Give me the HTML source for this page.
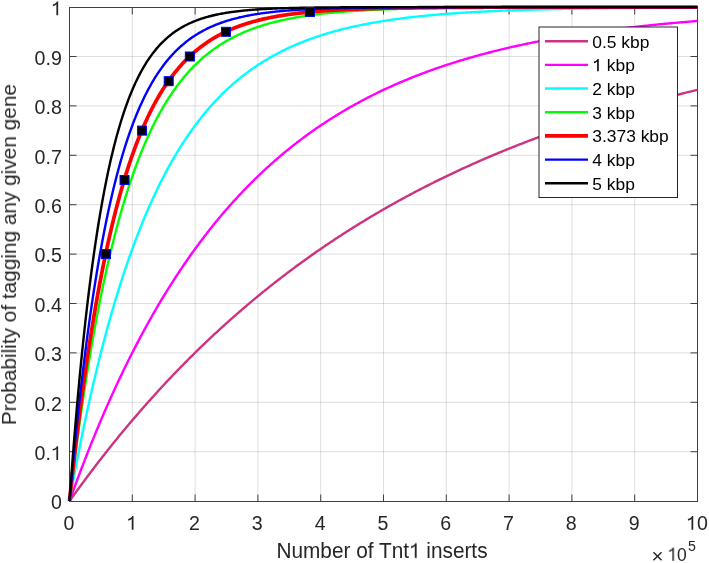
<!DOCTYPE html>
<html><head><meta charset="utf-8"><style>
html,body{margin:0;padding:0;background:#fff;overflow:hidden}
svg{display:block}
text{will-change:transform}
</style></head><body>
<svg width="709" height="563" viewBox="0 0 709 563">
<rect width="709" height="563" fill="#fff"/>
<path d="M132.30 7.5V501.5M195.10 7.5V501.5M257.90 7.5V501.5M320.70 7.5V501.5M383.50 7.5V501.5M446.30 7.5V501.5M509.10 7.5V501.5M571.90 7.5V501.5M634.70 7.5V501.5" stroke="#262626" stroke-opacity="0.15" stroke-width="1" fill="none"/>
<path d="M69.5 451.70H697.5M69.5 402.30H697.5M69.5 352.90H697.5M69.5 303.50H697.5M69.5 254.10H697.5M69.5 204.70H697.5M69.5 155.30H697.5M69.5 105.90H697.5M69.5 56.50H697.5" stroke="#262626" stroke-opacity="0.15" stroke-width="1" fill="none"/>
<path d="M69.50 501.5v-7.0M69.50 7.5v7.0M69.5 501.50h7.0M697.5 501.50h-7.0M132.30 501.5v-7.0M132.30 7.5v7.0M69.5 451.70h7.0M697.5 451.70h-7.0M195.10 501.5v-7.0M195.10 7.5v7.0M69.5 402.30h7.0M697.5 402.30h-7.0M257.90 501.5v-7.0M257.90 7.5v7.0M69.5 352.90h7.0M697.5 352.90h-7.0M320.70 501.5v-7.0M320.70 7.5v7.0M69.5 303.50h7.0M697.5 303.50h-7.0M383.50 501.5v-7.0M383.50 7.5v7.0M69.5 254.10h7.0M697.5 254.10h-7.0M446.30 501.5v-7.0M446.30 7.5v7.0M69.5 204.70h7.0M697.5 204.70h-7.0M509.10 501.5v-7.0M509.10 7.5v7.0M69.5 155.30h7.0M697.5 155.30h-7.0M571.90 501.5v-7.0M571.90 7.5v7.0M69.5 105.90h7.0M697.5 105.90h-7.0M634.70 501.5v-7.0M634.70 7.5v7.0M69.5 56.50h7.0M697.5 56.50h-7.0M697.50 501.5v-7.0M697.50 7.5v7.0M69.5 7.50h7.0M697.5 7.50h-7.0" stroke="#404040" stroke-width="1" fill="none"/>
<rect x="69.5" y="7.5" width="628.0" height="494.0" stroke="#404040" stroke-width="1" fill="none"/>
<polyline points="69.50,501.10 70.55,499.63 71.59,498.17 72.64,496.71 73.69,495.25 74.73,493.80 75.78,492.36 76.83,490.91 77.87,489.48 78.92,488.04 79.97,486.61 81.01,485.19 82.06,483.77 83.11,482.35 84.15,480.94 85.20,479.53 86.25,478.13 87.29,476.73 88.34,475.33 89.39,473.94 90.43,472.55 91.48,471.17 92.53,469.79 93.57,468.42 94.62,467.05 95.67,465.68 96.71,464.32 97.76,462.96 98.81,461.60 99.85,460.25 100.90,458.90 101.95,457.56 102.99,456.22 104.04,454.89 105.09,453.56 106.13,452.23 107.18,450.91 108.23,449.59 109.27,448.27 110.32,446.96 111.37,445.66 112.41,444.35 113.46,443.05 114.51,441.76 115.55,440.47 116.60,439.18 117.65,437.89 118.69,436.61 119.74,435.34 120.79,434.07 121.83,432.80 122.88,431.53 123.93,430.27 124.97,429.01 126.02,427.76 127.07,426.51 128.11,425.26 129.16,424.02 130.21,422.78 131.25,421.55 132.30,420.31 133.35,419.09 134.39,417.86 135.44,416.64 136.49,415.42 137.53,414.21 138.58,413.00 139.63,411.79 140.67,410.59 141.72,409.39 142.77,408.20 143.81,407.00 144.86,405.82 145.91,404.63 146.95,403.45 148.00,402.27 149.05,401.10 150.09,399.93 151.14,398.76 152.19,397.60 153.23,396.44 154.28,395.28 155.33,394.12 156.37,392.97 157.42,391.83 158.47,390.68 159.51,389.54 160.56,388.41 161.61,387.27 162.65,386.14 163.70,385.02 164.75,383.90 165.79,382.78 166.84,381.66 167.89,380.55 168.93,379.44 169.98,378.33 171.03,377.23 172.07,376.13 173.12,375.03 174.17,373.94 175.21,372.85 176.26,371.76 177.31,370.68 178.35,369.60 179.40,368.52 180.45,367.44 181.49,366.37 182.54,365.31 183.59,364.24 184.63,363.18 185.68,362.12 186.73,361.07 187.77,360.01 188.82,358.97 189.87,357.92 190.91,356.88 191.96,355.84 193.01,354.80 194.05,353.77 195.10,352.74 196.15,351.71 197.19,350.69 198.24,349.67 199.29,348.65 200.33,347.63 201.38,346.62 202.43,345.61 203.47,344.61 204.52,343.60 205.57,342.60 206.61,341.61 207.66,340.61 208.71,339.62 209.75,338.63 210.80,337.65 211.85,336.67 212.89,335.69 213.94,334.71 214.99,333.74 216.03,332.76 217.08,331.80 218.13,330.83 219.17,329.87 220.22,328.91 221.27,327.95 222.31,327.00 223.36,326.05 224.41,325.10 225.45,324.16 226.50,323.22 227.55,322.28 228.59,321.34 229.64,320.41 230.69,319.47 231.73,318.55 232.78,317.62 233.83,316.70 234.87,315.78 235.92,314.86 236.97,313.95 238.01,313.03 239.06,312.12 240.11,311.22 241.15,310.31 242.20,309.41 243.25,308.51 244.29,307.62 245.34,306.73 246.39,305.84 247.43,304.95 248.48,304.06 249.53,303.18 250.57,302.30 251.62,301.42 252.67,300.55 253.71,299.68 254.76,298.81 255.81,297.94 256.85,297.08 257.90,296.21 258.95,295.35 259.99,294.50 261.04,293.64 262.09,292.79 263.13,291.94 264.18,291.10 265.23,290.25 266.27,289.41 267.32,288.57 268.37,287.74 269.41,286.90 270.46,286.07 271.51,285.24 272.55,284.42 273.60,283.59 274.65,282.77 275.69,281.95 276.74,281.13 277.79,280.32 278.83,279.51 279.88,278.70 280.93,277.89 281.97,277.09 283.02,276.28 284.07,275.48 285.11,274.69 286.16,273.89 287.21,273.10 288.25,272.31 289.30,271.52 290.35,270.73 291.39,269.95 292.44,269.17 293.49,268.39 294.53,267.61 295.58,266.84 296.63,266.07 297.67,265.30 298.72,264.53 299.77,263.77 300.81,263.00 301.86,262.24 302.91,261.48 303.95,260.73 305.00,259.97 306.05,259.22 307.09,258.47 308.14,257.73 309.19,256.98 310.23,256.24 311.28,255.50 312.33,254.76 313.37,254.02 314.42,253.29 315.47,252.56 316.51,251.83 317.56,251.10 318.61,250.38 319.65,249.65 320.70,248.93 321.75,248.21 322.79,247.50 323.84,246.78 324.89,246.07 325.93,245.36 326.98,244.65 328.03,243.95 329.07,243.24 330.12,242.54 331.17,241.84 332.21,241.14 333.26,240.45 334.31,239.76 335.35,239.06 336.40,238.37 337.45,237.69 338.49,237.00 339.54,236.32 340.59,235.64 341.63,234.96 342.68,234.28 343.73,233.61 344.77,232.93 345.82,232.26 346.87,231.59 347.91,230.93 348.96,230.26 350.01,229.60 351.05,228.94 352.10,228.28 353.15,227.62 354.19,226.96 355.24,226.31 356.29,225.66 357.33,225.01 358.38,224.36 359.43,223.72 360.47,223.07 361.52,222.43 362.57,221.79 363.61,221.15 364.66,220.52 365.71,219.88 366.75,219.25 367.80,218.62 368.85,217.99 369.89,217.37 370.94,216.74 371.99,216.12 373.03,215.50 374.08,214.88 375.13,214.26 376.17,213.64 377.22,213.03 378.27,212.42 379.31,211.81 380.36,211.20 381.41,210.59 382.45,209.99 383.50,209.39 384.55,208.78 385.59,208.18 386.64,207.59 387.69,206.99 388.73,206.40 389.78,205.80 390.83,205.21 391.87,204.63 392.92,204.04 393.97,203.45 395.01,202.87 396.06,202.29 397.11,201.71 398.15,201.13 399.20,200.55 400.25,199.98 401.29,199.41 402.34,198.83 403.39,198.26 404.43,197.70 405.48,197.13 406.53,196.56 407.57,196.00 408.62,195.44 409.67,194.88 410.71,194.32 411.76,193.77 412.81,193.21 413.85,192.66 414.90,192.11 415.95,191.56 416.99,191.01 418.04,190.46 419.09,189.92 420.13,189.37 421.18,188.83 422.23,188.29 423.27,187.75 424.32,187.22 425.37,186.68 426.41,186.15 427.46,185.62 428.51,185.09 429.55,184.56 430.60,184.03 431.65,183.50 432.69,182.98 433.74,182.46 434.79,181.94 435.83,181.42 436.88,180.90 437.93,180.38 438.97,179.87 440.02,179.35 441.07,178.84 442.11,178.33 443.16,177.82 444.21,177.31 445.25,176.81 446.30,176.30 447.35,175.80 448.39,175.30 449.44,174.80 450.49,174.30 451.53,173.81 452.58,173.31 453.63,172.82 454.67,172.32 455.72,171.83 456.77,171.34 457.81,170.85 458.86,170.37 459.91,169.88 460.95,169.40 462.00,168.92 463.05,168.44 464.09,167.96 465.14,167.48 466.19,167.00 467.23,166.53 468.28,166.05 469.33,165.58 470.37,165.11 471.42,164.64 472.47,164.17 473.51,163.70 474.56,163.24 475.61,162.78 476.65,162.31 477.70,161.85 478.75,161.39 479.79,160.93 480.84,160.48 481.89,160.02 482.93,159.57 483.98,159.11 485.03,158.66 486.07,158.21 487.12,157.76 488.17,157.31 489.21,156.87 490.26,156.42 491.31,155.98 492.35,155.54 493.40,155.09 494.45,154.66 495.49,154.22 496.54,153.78 497.59,153.34 498.63,152.91 499.68,152.48 500.73,152.04 501.77,151.61 502.82,151.18 503.87,150.76 504.91,150.33 505.96,149.90 507.01,149.48 508.05,149.06 509.10,148.63 510.15,148.21 511.19,147.79 512.24,147.38 513.29,146.96 514.33,146.54 515.38,146.13 516.43,145.72 517.47,145.30 518.52,144.89 519.57,144.48 520.61,144.07 521.66,143.67 522.71,143.26 523.75,142.86 524.80,142.45 525.85,142.05 526.89,141.65 527.94,141.25 528.99,140.85 530.03,140.45 531.08,140.06 532.13,139.66 533.17,139.27 534.22,138.88 535.27,138.48 536.31,138.09 537.36,137.71 538.41,137.32 539.45,136.93 540.50,136.54 541.55,136.16 542.59,135.78 543.64,135.39 544.69,135.01 545.73,134.63 546.78,134.25 547.83,133.88 548.87,133.50 549.92,133.12 550.97,132.75 552.01,132.38 553.06,132.00 554.11,131.63 555.15,131.26 556.20,130.89 557.25,130.52 558.29,130.16 559.34,129.79 560.39,129.43 561.43,129.06 562.48,128.70 563.53,128.34 564.57,127.98 565.62,127.62 566.67,127.26 567.71,126.91 568.76,126.55 569.81,126.19 570.85,125.84 571.90,125.49 572.95,125.14 573.99,124.79 575.04,124.44 576.09,124.09 577.13,123.74 578.18,123.39 579.23,123.05 580.27,122.70 581.32,122.36 582.37,122.02 583.41,121.67 584.46,121.33 585.51,120.99 586.55,120.66 587.60,120.32 588.65,119.98 589.69,119.65 590.74,119.31 591.79,118.98 592.83,118.65 593.88,118.31 594.93,117.98 595.97,117.65 597.02,117.33 598.07,117.00 599.11,116.67 600.16,116.35 601.21,116.02 602.25,115.70 603.30,115.38 604.35,115.05 605.39,114.73 606.44,114.41 607.49,114.09 608.53,113.78 609.58,113.46 610.63,113.14 611.67,112.83 612.72,112.51 613.77,112.20 614.81,111.89 615.86,111.58 616.91,111.27 617.95,110.96 619.00,110.65 620.05,110.34 621.09,110.03 622.14,109.73 623.19,109.42 624.23,109.12 625.28,108.82 626.33,108.51 627.37,108.21 628.42,107.91 629.47,107.61 630.51,107.31 631.56,107.02 632.61,106.72 633.65,106.42 634.70,106.13 635.75,105.83 636.79,105.54 637.84,105.25 638.89,104.96 639.93,104.66 640.98,104.37 642.03,104.09 643.07,103.80 644.12,103.51 645.17,103.22 646.21,102.94 647.26,102.65 648.31,102.37 649.35,102.09 650.40,101.80 651.45,101.52 652.49,101.24 653.54,100.96 654.59,100.68 655.63,100.40 656.68,100.13 657.73,99.85 658.77,99.58 659.82,99.30 660.87,99.03 661.91,98.75 662.96,98.48 664.01,98.21 665.05,97.94 666.10,97.67 667.15,97.40 668.19,97.13 669.24,96.86 670.29,96.60 671.33,96.33 672.38,96.07 673.43,95.80 674.47,95.54 675.52,95.27 676.57,95.01 677.61,94.75 678.66,94.49 679.71,94.23 680.75,93.97 681.80,93.71 682.85,93.46 683.89,93.20 684.94,92.94 685.99,92.69 687.03,92.43 688.08,92.18 689.13,91.93 690.17,91.68 691.22,91.42 692.27,91.17 693.31,90.92 694.36,90.68 695.41,90.43 696.45,90.18 697.50,89.93" stroke="#cc3380" stroke-width="2.4" fill="none" stroke-linejoin="round"/>
<polyline points="69.50,501.10 70.55,498.17 71.59,495.25 72.64,492.36 73.69,489.48 74.73,486.61 75.78,483.77 76.83,480.94 77.87,478.13 78.92,475.33 79.97,472.55 81.01,469.79 82.06,467.05 83.11,464.32 84.15,461.60 85.20,458.90 86.25,456.22 87.29,453.56 88.34,450.91 89.39,448.27 90.43,445.66 91.48,443.05 92.53,440.47 93.57,437.89 94.62,435.34 95.67,432.80 96.71,430.27 97.76,427.76 98.81,425.26 99.85,422.78 100.90,420.31 101.95,417.86 102.99,415.42 104.04,413.00 105.09,410.59 106.13,408.20 107.18,405.82 108.23,403.45 109.27,401.10 110.32,398.76 111.37,396.44 112.41,394.12 113.46,391.83 114.51,389.54 115.55,387.27 116.60,385.02 117.65,382.78 118.69,380.55 119.74,378.33 120.79,376.13 121.83,373.94 122.88,371.76 123.93,369.60 124.97,367.44 126.02,365.31 127.07,363.18 128.11,361.07 129.16,358.97 130.21,356.88 131.25,354.80 132.30,352.74 133.35,350.69 134.39,348.65 135.44,346.62 136.49,344.61 137.53,342.60 138.58,340.61 139.63,338.63 140.67,336.67 141.72,334.71 142.77,332.76 143.81,330.83 144.86,328.91 145.91,327.00 146.95,325.10 148.00,323.22 149.05,321.34 150.09,319.47 151.14,317.62 152.19,315.78 153.23,313.95 154.28,312.12 155.33,310.31 156.37,308.51 157.42,306.73 158.47,304.95 159.51,303.18 160.56,301.42 161.61,299.68 162.65,297.94 163.70,296.21 164.75,294.50 165.79,292.79 166.84,291.10 167.89,289.41 168.93,287.74 169.98,286.07 171.03,284.42 172.07,282.77 173.12,281.13 174.17,279.51 175.21,277.89 176.26,276.28 177.31,274.69 178.35,273.10 179.40,271.52 180.45,269.95 181.49,268.39 182.54,266.84 183.59,265.30 184.63,263.77 185.68,262.24 186.73,260.73 187.77,259.22 188.82,257.73 189.87,256.24 190.91,254.76 191.96,253.29 193.01,251.83 194.05,250.38 195.10,248.93 196.15,247.50 197.19,246.07 198.24,244.65 199.29,243.24 200.33,241.84 201.38,240.45 202.43,239.06 203.47,237.69 204.52,236.32 205.57,234.96 206.61,233.61 207.66,232.26 208.71,230.93 209.75,229.60 210.80,228.28 211.85,226.96 212.89,225.66 213.94,224.36 214.99,223.07 216.03,221.79 217.08,220.52 218.13,219.25 219.17,217.99 220.22,216.74 221.27,215.50 222.31,214.26 223.36,213.03 224.41,211.81 225.45,210.59 226.50,209.39 227.55,208.18 228.59,206.99 229.64,205.80 230.69,204.63 231.73,203.45 232.78,202.29 233.83,201.13 234.87,199.98 235.92,198.83 236.97,197.70 238.01,196.56 239.06,195.44 240.11,194.32 241.15,193.21 242.20,192.11 243.25,191.01 244.29,189.92 245.34,188.83 246.39,187.75 247.43,186.68 248.48,185.62 249.53,184.56 250.57,183.50 251.62,182.46 252.67,181.42 253.71,180.38 254.76,179.35 255.81,178.33 256.85,177.31 257.90,176.30 258.95,175.30 259.99,174.30 261.04,173.31 262.09,172.32 263.13,171.34 264.18,170.37 265.23,169.40 266.27,168.44 267.32,167.48 268.37,166.53 269.41,165.58 270.46,164.64 271.51,163.70 272.55,162.78 273.60,161.85 274.65,160.93 275.69,160.02 276.74,159.11 277.79,158.21 278.83,157.31 279.88,156.42 280.93,155.54 281.97,154.66 283.02,153.78 284.07,152.91 285.11,152.04 286.16,151.18 287.21,150.33 288.25,149.48 289.30,148.63 290.35,147.79 291.39,146.96 292.44,146.13 293.49,145.30 294.53,144.48 295.58,143.67 296.63,142.86 297.67,142.05 298.72,141.25 299.77,140.45 300.81,139.66 301.86,138.88 302.91,138.09 303.95,137.32 305.00,136.54 306.05,135.78 307.09,135.01 308.14,134.25 309.19,133.50 310.23,132.75 311.28,132.00 312.33,131.26 313.37,130.52 314.42,129.79 315.47,129.06 316.51,128.34 317.56,127.62 318.61,126.91 319.65,126.19 320.70,125.49 321.75,124.79 322.79,124.09 323.84,123.39 324.89,122.70 325.93,122.02 326.98,121.33 328.03,120.66 329.07,119.98 330.12,119.31 331.17,118.65 332.21,117.98 333.26,117.33 334.31,116.67 335.35,116.02 336.40,115.38 337.45,114.73 338.49,114.09 339.54,113.46 340.59,112.83 341.63,112.20 342.68,111.58 343.73,110.96 344.77,110.34 345.82,109.73 346.87,109.12 347.91,108.51 348.96,107.91 350.01,107.31 351.05,106.72 352.10,106.13 353.15,105.54 354.19,104.96 355.24,104.37 356.29,103.80 357.33,103.22 358.38,102.65 359.43,102.09 360.47,101.52 361.52,100.96 362.57,100.40 363.61,99.85 364.66,99.30 365.71,98.75 366.75,98.21 367.80,97.67 368.85,97.13 369.89,96.60 370.94,96.07 371.99,95.54 373.03,95.01 374.08,94.49 375.13,93.97 376.17,93.46 377.22,92.94 378.27,92.43 379.31,91.93 380.36,91.42 381.41,90.92 382.45,90.43 383.50,89.93 384.55,89.44 385.59,88.95 386.64,88.47 387.69,87.98 388.73,87.50 389.78,87.03 390.83,86.55 391.87,86.08 392.92,85.61 393.97,85.15 395.01,84.68 396.06,84.22 397.11,83.76 398.15,83.31 399.20,82.86 400.25,82.41 401.29,81.96 402.34,81.52 403.39,81.07 404.43,80.64 405.48,80.20 406.53,79.77 407.57,79.33 408.62,78.91 409.67,78.48 410.71,78.06 411.76,77.63 412.81,77.22 413.85,76.80 414.90,76.39 415.95,75.98 416.99,75.57 418.04,75.16 419.09,74.76 420.13,74.35 421.18,73.96 422.23,73.56 423.27,73.16 424.32,72.77 425.37,72.38 426.41,72.00 427.46,71.61 428.51,71.23 429.55,70.85 430.60,70.47 431.65,70.09 432.69,69.72 433.74,69.35 434.79,68.98 435.83,68.61 436.88,68.25 437.93,67.88 438.97,67.52 440.02,67.16 441.07,66.81 442.11,66.45 443.16,66.10 444.21,65.75 445.25,65.40 446.30,65.06 447.35,64.71 448.39,64.37 449.44,64.03 450.49,63.69 451.53,63.36 452.58,63.02 453.63,62.69 454.67,62.36 455.72,62.03 456.77,61.71 457.81,61.38 458.86,61.06 459.91,60.74 460.95,60.42 462.00,60.11 463.05,59.79 464.09,59.48 465.14,59.17 466.19,58.86 467.23,58.55 468.28,58.25 469.33,57.94 470.37,57.64 471.42,57.34 472.47,57.04 473.51,56.75 474.56,56.45 475.61,56.16 476.65,55.87 477.70,55.58 478.75,55.29 479.79,55.00 480.84,54.72 481.89,54.44 482.93,54.16 483.98,53.88 485.03,53.60 486.07,53.32 487.12,53.05 488.17,52.78 489.21,52.51 490.26,52.24 491.31,51.97 492.35,51.70 493.40,51.44 494.45,51.17 495.49,50.91 496.54,50.65 497.59,50.39 498.63,50.14 499.68,49.88 500.73,49.63 501.77,49.38 502.82,49.12 503.87,48.87 504.91,48.63 505.96,48.38 507.01,48.14 508.05,47.89 509.10,47.65 510.15,47.41 511.19,47.17 512.24,46.93 513.29,46.70 514.33,46.46 515.38,46.23 516.43,46.00 517.47,45.76 518.52,45.53 519.57,45.31 520.61,45.08 521.66,44.85 522.71,44.63 523.75,44.41 524.80,44.19 525.85,43.97 526.89,43.75 527.94,43.53 528.99,43.31 530.03,43.10 531.08,42.89 532.13,42.67 533.17,42.46 534.22,42.25 535.27,42.04 536.31,41.84 537.36,41.63 538.41,41.42 539.45,41.22 540.50,41.02 541.55,40.82 542.59,40.62 543.64,40.42 544.69,40.22 545.73,40.02 546.78,39.83 547.83,39.63 548.87,39.44 549.92,39.25 550.97,39.06 552.01,38.87 553.06,38.68 554.11,38.49 555.15,38.31 556.20,38.12 557.25,37.94 558.29,37.75 559.34,37.57 560.39,37.39 561.43,37.21 562.48,37.03 563.53,36.86 564.57,36.68 565.62,36.50 566.67,36.33 567.71,36.16 568.76,35.98 569.81,35.81 570.85,35.64 571.90,35.47 572.95,35.30 573.99,35.14 575.04,34.97 576.09,34.80 577.13,34.64 578.18,34.48 579.23,34.31 580.27,34.15 581.32,33.99 582.37,33.83 583.41,33.67 584.46,33.52 585.51,33.36 586.55,33.20 587.60,33.05 588.65,32.89 589.69,32.74 590.74,32.59 591.79,32.44 592.83,32.29 593.88,32.14 594.93,31.99 595.97,31.84 597.02,31.69 598.07,31.55 599.11,31.40 600.16,31.26 601.21,31.12 602.25,30.97 603.30,30.83 604.35,30.69 605.39,30.55 606.44,30.41 607.49,30.27 608.53,30.14 609.58,30.00 610.63,29.86 611.67,29.73 612.72,29.59 613.77,29.46 614.81,29.33 615.86,29.20 616.91,29.06 617.95,28.93 619.00,28.80 620.05,28.68 621.09,28.55 622.14,28.42 623.19,28.29 624.23,28.17 625.28,28.04 626.33,27.92 627.37,27.80 628.42,27.67 629.47,27.55 630.51,27.43 631.56,27.31 632.61,27.19 633.65,27.07 634.70,26.95 635.75,26.83 636.79,26.72 637.84,26.60 638.89,26.48 639.93,26.37 640.98,26.25 642.03,26.14 643.07,26.03 644.12,25.92 645.17,25.80 646.21,25.69 647.26,25.58 648.31,25.47 649.35,25.36 650.40,25.26 651.45,25.15 652.49,25.04 653.54,24.93 654.59,24.83 655.63,24.72 656.68,24.62 657.73,24.51 658.77,24.41 659.82,24.31 660.87,24.21 661.91,24.10 662.96,24.00 664.01,23.90 665.05,23.80 666.10,23.70 667.15,23.61 668.19,23.51 669.24,23.41 670.29,23.31 671.33,23.22 672.38,23.12 673.43,23.03 674.47,22.93 675.52,22.84 676.57,22.75 677.61,22.65 678.66,22.56 679.71,22.47 680.75,22.38 681.80,22.29 682.85,22.20 683.89,22.11 684.94,22.02 685.99,21.93 687.03,21.84 688.08,21.75 689.13,21.67 690.17,21.58 691.22,21.49 692.27,21.41 693.31,21.32 694.36,21.24 695.41,21.16 696.45,21.07 697.50,20.99" stroke="#ff00ff" stroke-width="2.4" fill="none" stroke-linejoin="round"/>
<polyline points="69.50,501.10 70.55,495.25 71.59,489.48 72.64,483.77 73.69,478.13 74.73,472.55 75.78,467.05 76.83,461.60 77.87,456.22 78.92,450.91 79.97,445.66 81.01,440.47 82.06,435.34 83.11,430.27 84.15,425.26 85.20,420.31 86.25,415.42 87.29,410.59 88.34,405.82 89.39,401.10 90.43,396.44 91.48,391.83 92.53,387.27 93.57,382.78 94.62,378.33 95.67,373.94 96.71,369.60 97.76,365.31 98.81,361.07 99.85,356.88 100.90,352.74 101.95,348.65 102.99,344.61 104.04,340.61 105.09,336.67 106.13,332.76 107.18,328.91 108.23,325.10 109.27,321.34 110.32,317.62 111.37,313.95 112.41,310.31 113.46,306.73 114.51,303.18 115.55,299.68 116.60,296.21 117.65,292.79 118.69,289.41 119.74,286.07 120.79,282.77 121.83,279.51 122.88,276.28 123.93,273.10 124.97,269.95 126.02,266.84 127.07,263.77 128.11,260.73 129.16,257.73 130.21,254.76 131.25,251.83 132.30,248.93 133.35,246.07 134.39,243.24 135.44,240.45 136.49,237.69 137.53,234.96 138.58,232.26 139.63,229.60 140.67,226.96 141.72,224.36 142.77,221.79 143.81,219.25 144.86,216.74 145.91,214.26 146.95,211.81 148.00,209.39 149.05,206.99 150.09,204.63 151.14,202.29 152.19,199.98 153.23,197.70 154.28,195.44 155.33,193.21 156.37,191.01 157.42,188.83 158.47,186.68 159.51,184.56 160.56,182.46 161.61,180.38 162.65,178.33 163.70,176.30 164.75,174.30 165.79,172.32 166.84,170.37 167.89,168.44 168.93,166.53 169.98,164.64 171.03,162.78 172.07,160.93 173.12,159.11 174.17,157.31 175.21,155.54 176.26,153.78 177.31,152.04 178.35,150.33 179.40,148.63 180.45,146.96 181.49,145.30 182.54,143.67 183.59,142.05 184.63,140.45 185.68,138.88 186.73,137.32 187.77,135.78 188.82,134.25 189.87,132.75 190.91,131.26 191.96,129.79 193.01,128.34 194.05,126.91 195.10,125.49 196.15,124.09 197.19,122.70 198.24,121.33 199.29,119.98 200.33,118.65 201.38,117.33 202.43,116.02 203.47,114.73 204.52,113.46 205.57,112.20 206.61,110.96 207.66,109.73 208.71,108.51 209.75,107.31 210.80,106.13 211.85,104.96 212.89,103.80 213.94,102.65 214.99,101.52 216.03,100.40 217.08,99.30 218.13,98.21 219.17,97.13 220.22,96.07 221.27,95.01 222.31,93.97 223.36,92.94 224.41,91.93 225.45,90.92 226.50,89.93 227.55,88.95 228.59,87.98 229.64,87.03 230.69,86.08 231.73,85.15 232.78,84.22 233.83,83.31 234.87,82.41 235.92,81.52 236.97,80.64 238.01,79.77 239.06,78.91 240.11,78.06 241.15,77.22 242.20,76.39 243.25,75.57 244.29,74.76 245.34,73.96 246.39,73.16 247.43,72.38 248.48,71.61 249.53,70.85 250.57,70.09 251.62,69.35 252.67,68.61 253.71,67.88 254.76,67.16 255.81,66.45 256.85,65.75 257.90,65.06 258.95,64.37 259.99,63.69 261.04,63.02 262.09,62.36 263.13,61.71 264.18,61.06 265.23,60.42 266.27,59.79 267.32,59.17 268.37,58.55 269.41,57.94 270.46,57.34 271.51,56.75 272.55,56.16 273.60,55.58 274.65,55.00 275.69,54.44 276.74,53.88 277.79,53.32 278.83,52.78 279.88,52.24 280.93,51.70 281.97,51.17 283.02,50.65 284.07,50.14 285.11,49.63 286.16,49.12 287.21,48.63 288.25,48.14 289.30,47.65 290.35,47.17 291.39,46.70 292.44,46.23 293.49,45.76 294.53,45.31 295.58,44.85 296.63,44.41 297.67,43.97 298.72,43.53 299.77,43.10 300.81,42.67 301.86,42.25 302.91,41.84 303.95,41.42 305.00,41.02 306.05,40.62 307.09,40.22 308.14,39.83 309.19,39.44 310.23,39.06 311.28,38.68 312.33,38.31 313.37,37.94 314.42,37.57 315.47,37.21 316.51,36.86 317.56,36.50 318.61,36.16 319.65,35.81 320.70,35.47 321.75,35.14 322.79,34.80 323.84,34.48 324.89,34.15 325.93,33.83 326.98,33.52 328.03,33.20 329.07,32.89 330.12,32.59 331.17,32.29 332.21,31.99 333.26,31.69 334.31,31.40 335.35,31.12 336.40,30.83 337.45,30.55 338.49,30.27 339.54,30.00 340.59,29.73 341.63,29.46 342.68,29.20 343.73,28.93 344.77,28.68 345.82,28.42 346.87,28.17 347.91,27.92 348.96,27.67 350.01,27.43 351.05,27.19 352.10,26.95 353.15,26.72 354.19,26.48 355.24,26.25 356.29,26.03 357.33,25.80 358.38,25.58 359.43,25.36 360.47,25.15 361.52,24.93 362.57,24.72 363.61,24.51 364.66,24.31 365.71,24.10 366.75,23.90 367.80,23.70 368.85,23.51 369.89,23.31 370.94,23.12 371.99,22.93 373.03,22.75 374.08,22.56 375.13,22.38 376.17,22.20 377.22,22.02 378.27,21.84 379.31,21.67 380.36,21.49 381.41,21.32 382.45,21.16 383.50,20.99 384.55,20.82 385.59,20.66 386.64,20.50 387.69,20.34 388.73,20.19 389.78,20.03 390.83,19.88 391.87,19.73 392.92,19.58 393.97,19.43 395.01,19.28 396.06,19.14 397.11,19.00 398.15,18.86 399.20,18.72 400.25,18.58 401.29,18.44 402.34,18.31 403.39,18.18 404.43,18.05 405.48,17.92 406.53,17.79 407.57,17.66 408.62,17.54 409.67,17.41 410.71,17.29 411.76,17.17 412.81,17.05 413.85,16.93 414.90,16.82 415.95,16.70 416.99,16.59 418.04,16.48 419.09,16.37 420.13,16.26 421.18,16.15 422.23,16.04 423.27,15.94 424.32,15.83 425.37,15.73 426.41,15.63 427.46,15.52 428.51,15.42 429.55,15.33 430.60,15.23 431.65,15.13 432.69,15.04 433.74,14.94 434.79,14.85 435.83,14.76 436.88,14.67 437.93,14.58 438.97,14.49 440.02,14.40 441.07,14.32 442.11,14.23 443.16,14.15 444.21,14.06 445.25,13.98 446.30,13.90 447.35,13.82 448.39,13.74 449.44,13.66 450.49,13.58 451.53,13.51 452.58,13.43 453.63,13.36 454.67,13.28 455.72,13.21 456.77,13.14 457.81,13.06 458.86,12.99 459.91,12.92 460.95,12.86 462.00,12.79 463.05,12.72 464.09,12.65 465.14,12.59 466.19,12.52 467.23,12.46 468.28,12.40 469.33,12.33 470.37,12.27 471.42,12.21 472.47,12.15 473.51,12.09 474.56,12.03 475.61,11.97 476.65,11.91 477.70,11.86 478.75,11.80 479.79,11.75 480.84,11.69 481.89,11.64 482.93,11.58 483.98,11.53 485.03,11.48 486.07,11.43 487.12,11.37 488.17,11.32 489.21,11.27 490.26,11.22 491.31,11.18 492.35,11.13 493.40,11.08 494.45,11.03 495.49,10.99 496.54,10.94 497.59,10.89 498.63,10.85 499.68,10.80 500.73,10.76 501.77,10.72 502.82,10.67 503.87,10.63 504.91,10.59 505.96,10.55 507.01,10.51 508.05,10.47 509.10,10.43 510.15,10.39 511.19,10.35 512.24,10.31 513.29,10.27 514.33,10.24 515.38,10.20 516.43,10.16 517.47,10.13 518.52,10.09 519.57,10.05 520.61,10.02 521.66,9.99 522.71,9.95 523.75,9.92 524.80,9.88 525.85,9.85 526.89,9.82 527.94,9.79 528.99,9.75 530.03,9.72 531.08,9.69 532.13,9.66 533.17,9.63 534.22,9.60 535.27,9.57 536.31,9.54 537.36,9.51 538.41,9.49 539.45,9.46 540.50,9.43 541.55,9.40 542.59,9.37 543.64,9.35 544.69,9.32 545.73,9.29 546.78,9.27 547.83,9.24 548.87,9.22 549.92,9.19 550.97,9.17 552.01,9.14 553.06,9.12 554.11,9.09 555.15,9.07 556.20,9.05 557.25,9.02 558.29,9.00 559.34,8.98 560.39,8.96 561.43,8.94 562.48,8.91 563.53,8.89 564.57,8.87 565.62,8.85 566.67,8.83 567.71,8.81 568.76,8.79 569.81,8.77 570.85,8.75 571.90,8.73 572.95,8.71 573.99,8.69 575.04,8.67 576.09,8.65 577.13,8.64 578.18,8.62 579.23,8.60 580.27,8.58 581.32,8.56 582.37,8.55 583.41,8.53 584.46,8.51 585.51,8.50 586.55,8.48 587.60,8.46 588.65,8.45 589.69,8.43 590.74,8.42 591.79,8.40 592.83,8.38 593.88,8.37 594.93,8.35 595.97,8.34 597.02,8.32 598.07,8.31 599.11,8.30 600.16,8.28 601.21,8.27 602.25,8.25 603.30,8.24 604.35,8.23 605.39,8.21 606.44,8.20 607.49,8.19 608.53,8.17 609.58,8.16 610.63,8.15 611.67,8.14 612.72,8.12 613.77,8.11 614.81,8.10 615.86,8.09 616.91,8.08 617.95,8.07 619.00,8.05 620.05,8.04 621.09,8.03 622.14,8.02 623.19,8.01 624.23,8.00 625.28,7.99 626.33,7.98 627.37,7.97 628.42,7.96 629.47,7.95 630.51,7.94 631.56,7.93 632.61,7.92 633.65,7.91 634.70,7.90 635.75,7.89 636.79,7.88 637.84,7.87 638.89,7.86 639.93,7.85 640.98,7.84 642.03,7.83 643.07,7.83 644.12,7.82 645.17,7.81 646.21,7.80 647.26,7.79 648.31,7.78 649.35,7.78 650.40,7.77 651.45,7.76 652.49,7.75 653.54,7.74 654.59,7.74 655.63,7.73 656.68,7.72 657.73,7.71 658.77,7.71 659.82,7.70 660.87,7.69 661.91,7.69 662.96,7.68 664.01,7.67 665.05,7.66 666.10,7.66 667.15,7.65 668.19,7.64 669.24,7.64 670.29,7.63 671.33,7.63 672.38,7.62 673.43,7.61 674.47,7.61 675.52,7.60 676.57,7.60 677.61,7.59 678.66,7.58 679.71,7.58 680.75,7.57 681.80,7.57 682.85,7.56 683.89,7.56 684.94,7.55 685.99,7.55 687.03,7.54 688.08,7.53 689.13,7.53 690.17,7.52 691.22,7.52 692.27,7.51 693.31,7.51 694.36,7.50 695.41,7.50 696.45,7.50 697.50,7.49" stroke="#00ffff" stroke-width="2.4" fill="none" stroke-linejoin="round"/>
<polyline points="69.50,501.10 70.55,492.36 71.59,483.77 72.64,475.33 73.69,467.05 74.73,458.90 75.78,450.91 76.83,443.05 77.87,435.34 78.92,427.76 79.97,420.31 81.01,413.00 82.06,405.82 83.11,398.76 84.15,391.83 85.20,385.02 86.25,378.33 87.29,371.76 88.34,365.31 89.39,358.97 90.43,352.74 91.48,346.62 92.53,340.61 93.57,334.71 94.62,328.91 95.67,323.22 96.71,317.62 97.76,312.12 98.81,306.73 99.85,301.42 100.90,296.21 101.95,291.10 102.99,286.07 104.04,281.13 105.09,276.28 106.13,271.52 107.18,266.84 108.23,262.24 109.27,257.73 110.32,253.29 111.37,248.93 112.41,244.65 113.46,240.45 114.51,236.32 115.55,232.26 116.60,228.28 117.65,224.36 118.69,220.52 119.74,216.74 120.79,213.03 121.83,209.39 122.88,205.80 123.93,202.29 124.97,198.83 126.02,195.44 127.07,192.11 128.11,188.83 129.16,185.62 130.21,182.46 131.25,179.35 132.30,176.30 133.35,173.31 134.39,170.37 135.44,167.48 136.49,164.64 137.53,161.85 138.58,159.11 139.63,156.42 140.67,153.78 141.72,151.18 142.77,148.63 143.81,146.13 144.86,143.67 145.91,141.25 146.95,138.88 148.00,136.54 149.05,134.25 150.09,132.00 151.14,129.79 152.19,127.62 153.23,125.49 154.28,123.39 155.33,121.33 156.37,119.31 157.42,117.33 158.47,115.38 159.51,113.46 160.56,111.58 161.61,109.73 162.65,107.91 163.70,106.13 164.75,104.37 165.79,102.65 166.84,100.96 167.89,99.30 168.93,97.67 169.98,96.07 171.03,94.49 172.07,92.94 173.12,91.42 174.17,89.93 175.21,88.47 176.26,87.03 177.31,85.61 178.35,84.22 179.40,82.86 180.45,81.52 181.49,80.20 182.54,78.91 183.59,77.63 184.63,76.39 185.68,75.16 186.73,73.96 187.77,72.77 188.82,71.61 189.87,70.47 190.91,69.35 191.96,68.25 193.01,67.16 194.05,66.10 195.10,65.06 196.15,64.03 197.19,63.02 198.24,62.03 199.29,61.06 200.33,60.11 201.38,59.17 202.43,58.25 203.47,57.34 204.52,56.45 205.57,55.58 206.61,54.72 207.66,53.88 208.71,53.05 209.75,52.24 210.80,51.44 211.85,50.65 212.89,49.88 213.94,49.12 214.99,48.38 216.03,47.65 217.08,46.93 218.13,46.23 219.17,45.53 220.22,44.85 221.27,44.19 222.31,43.53 223.36,42.89 224.41,42.25 225.45,41.63 226.50,41.02 227.55,40.42 228.59,39.83 229.64,39.25 230.69,38.68 231.73,38.12 232.78,37.57 233.83,37.03 234.87,36.50 235.92,35.98 236.97,35.47 238.01,34.97 239.06,34.48 240.11,33.99 241.15,33.52 242.20,33.05 243.25,32.59 244.29,32.14 245.34,31.69 246.39,31.26 247.43,30.83 248.48,30.41 249.53,30.00 250.57,29.59 251.62,29.20 252.67,28.80 253.71,28.42 254.76,28.04 255.81,27.67 256.85,27.31 257.90,26.95 258.95,26.60 259.99,26.25 261.04,25.92 262.09,25.58 263.13,25.26 264.18,24.93 265.23,24.62 266.27,24.31 267.32,24.00 268.37,23.70 269.41,23.41 270.46,23.12 271.51,22.84 272.55,22.56 273.60,22.29 274.65,22.02 275.69,21.75 276.74,21.49 277.79,21.24 278.83,20.99 279.88,20.74 280.93,20.50 281.97,20.26 283.02,20.03 284.07,19.80 285.11,19.58 286.16,19.36 287.21,19.14 288.25,18.93 289.30,18.72 290.35,18.51 291.39,18.31 292.44,18.11 293.49,17.92 294.53,17.73 295.58,17.54 296.63,17.35 297.67,17.17 298.72,16.99 299.77,16.82 300.81,16.65 301.86,16.48 302.91,16.31 303.95,16.15 305.00,15.99 306.05,15.83 307.09,15.68 308.14,15.52 309.19,15.38 310.23,15.23 311.28,15.08 312.33,14.94 313.37,14.80 314.42,14.67 315.47,14.53 316.51,14.40 317.56,14.27 318.61,14.15 319.65,14.02 320.70,13.90 321.75,13.78 322.79,13.66 323.84,13.54 324.89,13.43 325.93,13.32 326.98,13.21 328.03,13.10 329.07,12.99 330.12,12.89 331.17,12.79 332.21,12.69 333.26,12.59 334.31,12.49 335.35,12.40 336.40,12.30 337.45,12.21 338.49,12.12 339.54,12.03 340.59,11.94 341.63,11.86 342.68,11.77 343.73,11.69 344.77,11.61 345.82,11.53 346.87,11.45 347.91,11.37 348.96,11.30 350.01,11.22 351.05,11.15 352.10,11.08 353.15,11.01 354.19,10.94 355.24,10.87 356.29,10.80 357.33,10.74 358.38,10.67 359.43,10.61 360.47,10.55 361.52,10.49 362.57,10.43 363.61,10.37 364.66,10.31 365.71,10.25 366.75,10.20 367.80,10.14 368.85,10.09 369.89,10.04 370.94,9.99 371.99,9.93 373.03,9.88 374.08,9.83 375.13,9.79 376.17,9.74 377.22,9.69 378.27,9.65 379.31,9.60 380.36,9.56 381.41,9.51 382.45,9.47 383.50,9.43 384.55,9.39 385.59,9.35 386.64,9.31 387.69,9.27 388.73,9.23 389.78,9.19 390.83,9.16 391.87,9.12 392.92,9.08 393.97,9.05 395.01,9.01 396.06,8.98 397.11,8.95 398.15,8.91 399.20,8.88 400.25,8.85 401.29,8.82 402.34,8.79 403.39,8.76 404.43,8.73 405.48,8.70 406.53,8.67 407.57,8.64 408.62,8.62 409.67,8.59 410.71,8.56 411.76,8.54 412.81,8.51 413.85,8.49 414.90,8.46 415.95,8.44 416.99,8.42 418.04,8.39 419.09,8.37 420.13,8.35 421.18,8.32 422.23,8.30 423.27,8.28 424.32,8.26 425.37,8.24 426.41,8.22 427.46,8.20 428.51,8.18 429.55,8.16 430.60,8.14 431.65,8.12 432.69,8.11 433.74,8.09 434.79,8.07 435.83,8.05 436.88,8.04 437.93,8.02 438.97,8.00 440.02,7.99 441.07,7.97 442.11,7.96 443.16,7.94 444.21,7.93 445.25,7.91 446.30,7.90 447.35,7.88 448.39,7.87 449.44,7.86 450.49,7.84 451.53,7.83 452.58,7.82 453.63,7.80 454.67,7.79 455.72,7.78 456.77,7.77 457.81,7.76 458.86,7.74 459.91,7.73 460.95,7.72 462.00,7.71 463.05,7.70 464.09,7.69 465.14,7.68 466.19,7.67 467.23,7.66 468.28,7.65 469.33,7.64 470.37,7.63 471.42,7.62 472.47,7.61 473.51,7.60 474.56,7.59 475.61,7.58 476.65,7.58 477.70,7.57 478.75,7.56 479.79,7.55 480.84,7.54 481.89,7.53 482.93,7.53 483.98,7.52 485.03,7.51 486.07,7.50 487.12,7.50 488.17,7.49 489.21,7.48 490.26,7.48 491.31,7.47 492.35,7.46 493.40,7.46 494.45,7.45 495.49,7.44 496.54,7.44 497.59,7.43 498.63,7.43 499.68,7.42 500.73,7.42 501.77,7.41 502.82,7.40 503.87,7.40 504.91,7.39 505.96,7.39 507.01,7.38 508.05,7.38 509.10,7.37 510.15,7.37 511.19,7.36 512.24,7.36 513.29,7.35 514.33,7.35 515.38,7.35 516.43,7.34 517.47,7.34 518.52,7.33 519.57,7.33 520.61,7.32 521.66,7.32 522.71,7.32 523.75,7.31 524.80,7.31 525.85,7.31 526.89,7.30 527.94,7.30 528.99,7.29 530.03,7.29 531.08,7.29 532.13,7.28 533.17,7.28 534.22,7.28 535.27,7.27 536.31,7.27 537.36,7.27 538.41,7.27 539.45,7.26 540.50,7.26 541.55,7.26 542.59,7.25 543.64,7.25 544.69,7.25 545.73,7.25 546.78,7.24 547.83,7.24 548.87,7.24 549.92,7.24 550.97,7.23 552.01,7.23 553.06,7.23 554.11,7.23 555.15,7.22 556.20,7.22 557.25,7.22 558.29,7.22 559.34,7.22 560.39,7.21 561.43,7.21 562.48,7.21 563.53,7.21 564.57,7.21 565.62,7.20 566.67,7.20 567.71,7.20 568.76,7.20 569.81,7.20 570.85,7.20 571.90,7.19 572.95,7.19 573.99,7.19 575.04,7.19 576.09,7.19 577.13,7.19 578.18,7.18 579.23,7.18 580.27,7.18 581.32,7.18 582.37,7.18 583.41,7.18 584.46,7.18 585.51,7.17 586.55,7.17 587.60,7.17 588.65,7.17 589.69,7.17 590.74,7.17 591.79,7.17 592.83,7.17 593.88,7.16 594.93,7.16 595.97,7.16 597.02,7.16 598.07,7.16 599.11,7.16 600.16,7.16 601.21,7.16 602.25,7.16 603.30,7.15 604.35,7.15 605.39,7.15 606.44,7.15 607.49,7.15 608.53,7.15 609.58,7.15 610.63,7.15 611.67,7.15 612.72,7.15 613.77,7.15 614.81,7.15 615.86,7.14 616.91,7.14 617.95,7.14 619.00,7.14 620.05,7.14 621.09,7.14 622.14,7.14 623.19,7.14 624.23,7.14 625.28,7.14 626.33,7.14 627.37,7.14 628.42,7.14 629.47,7.14 630.51,7.13 631.56,7.13 632.61,7.13 633.65,7.13 634.70,7.13 635.75,7.13 636.79,7.13 637.84,7.13 638.89,7.13 639.93,7.13 640.98,7.13 642.03,7.13 643.07,7.13 644.12,7.13 645.17,7.13 646.21,7.13 647.26,7.13 648.31,7.13 649.35,7.12 650.40,7.12 651.45,7.12 652.49,7.12 653.54,7.12 654.59,7.12 655.63,7.12 656.68,7.12 657.73,7.12 658.77,7.12 659.82,7.12 660.87,7.12 661.91,7.12 662.96,7.12 664.01,7.12 665.05,7.12 666.10,7.12 667.15,7.12 668.19,7.12 669.24,7.12 670.29,7.12 671.33,7.12 672.38,7.12 673.43,7.12 674.47,7.12 675.52,7.12 676.57,7.12 677.61,7.12 678.66,7.12 679.71,7.11 680.75,7.11 681.80,7.11 682.85,7.11 683.89,7.11 684.94,7.11 685.99,7.11 687.03,7.11 688.08,7.11 689.13,7.11 690.17,7.11 691.22,7.11 692.27,7.11 693.31,7.11 694.36,7.11 695.41,7.11 696.45,7.11 697.50,7.11" stroke="#00ff00" stroke-width="2.4" fill="none" stroke-linejoin="round"/>
<polyline points="69.50,501.10 70.55,491.28 71.59,481.66 72.64,472.22 73.69,462.98 74.73,453.92 75.78,445.04 76.83,436.33 77.87,427.80 78.92,419.44 79.97,411.24 81.01,403.21 82.06,395.33 83.11,387.62 84.15,380.05 85.20,372.64 86.25,365.37 87.29,358.25 88.34,351.27 89.39,344.43 90.43,337.73 91.48,331.15 92.53,324.71 93.57,318.40 94.62,312.21 95.67,306.15 96.71,300.20 97.76,294.38 98.81,288.67 99.85,283.07 100.90,277.58 101.95,272.21 102.99,266.94 104.04,261.77 105.09,256.71 106.13,251.75 107.18,246.89 108.23,242.12 109.27,237.45 110.32,232.87 111.37,228.38 112.41,223.98 113.46,219.67 114.51,215.45 115.55,211.31 116.60,207.25 117.65,203.27 118.69,199.37 119.74,195.55 120.79,191.80 121.83,188.13 122.88,184.53 123.93,181.01 124.97,177.55 126.02,174.16 127.07,170.84 128.11,167.59 129.16,164.40 130.21,161.27 131.25,158.20 132.30,155.20 133.35,152.26 134.39,149.37 135.44,146.54 136.49,143.77 137.53,141.06 138.58,138.39 139.63,135.78 140.67,133.23 141.72,130.72 142.77,128.26 143.81,125.85 144.86,123.49 145.91,121.18 146.95,118.91 148.00,116.69 149.05,114.51 150.09,112.38 151.14,110.28 152.19,108.23 153.23,106.22 154.28,104.25 155.33,102.32 156.37,100.43 157.42,98.57 158.47,96.75 159.51,94.97 160.56,93.23 161.61,91.51 162.65,89.84 163.70,88.19 164.75,86.58 165.79,85.00 166.84,83.45 167.89,81.93 168.93,80.45 169.98,78.99 171.03,77.56 172.07,76.16 173.12,74.79 174.17,73.44 175.21,72.12 176.26,70.83 177.31,69.56 178.35,68.32 179.40,67.10 180.45,65.91 181.49,64.74 182.54,63.60 183.59,62.47 184.63,61.37 185.68,60.29 186.73,59.24 187.77,58.20 188.82,57.18 189.87,56.19 190.91,55.21 191.96,54.26 193.01,53.32 194.05,52.40 195.10,51.50 196.15,50.62 197.19,49.75 198.24,48.91 199.29,48.07 200.33,47.26 201.38,46.46 202.43,45.68 203.47,44.91 204.52,44.16 205.57,43.42 206.61,42.70 207.66,41.99 208.71,41.30 209.75,40.62 210.80,39.95 211.85,39.30 212.89,38.66 213.94,38.03 214.99,37.42 216.03,36.82 217.08,36.23 218.13,35.65 219.17,35.08 220.22,34.52 221.27,33.98 222.31,33.44 223.36,32.92 224.41,32.41 225.45,31.90 226.50,31.41 227.55,30.93 228.59,30.45 229.64,29.99 230.69,29.53 231.73,29.09 232.78,28.65 233.83,28.22 234.87,27.80 235.92,27.39 236.97,26.99 238.01,26.59 239.06,26.21 240.11,25.83 241.15,25.45 242.20,25.09 243.25,24.73 244.29,24.38 245.34,24.04 246.39,23.70 247.43,23.37 248.48,23.05 249.53,22.73 250.57,22.42 251.62,22.12 252.67,21.82 253.71,21.52 254.76,21.24 255.81,20.96 256.85,20.68 257.90,20.41 258.95,20.15 259.99,19.89 261.04,19.63 262.09,19.38 263.13,19.14 264.18,18.90 265.23,18.67 266.27,18.44 267.32,18.21 268.37,17.99 269.41,17.77 270.46,17.56 271.51,17.35 272.55,17.15 273.60,16.95 274.65,16.75 275.69,16.56 276.74,16.37 277.79,16.19 278.83,16.01 279.88,15.83 280.93,15.66 281.97,15.49 283.02,15.32 284.07,15.16 285.11,15.00 286.16,14.84 287.21,14.69 288.25,14.54 289.30,14.39 290.35,14.24 291.39,14.10 292.44,13.96 293.49,13.83 294.53,13.69 295.58,13.56 296.63,13.43 297.67,13.31 298.72,13.18 299.77,13.06 300.81,12.94 301.86,12.83 302.91,12.71 303.95,12.60 305.00,12.49 306.05,12.39 307.09,12.28 308.14,12.18 309.19,12.08 310.23,11.98 311.28,11.88 312.33,11.79 313.37,11.69 314.42,11.60 315.47,11.51 316.51,11.42 317.56,11.34 318.61,11.25 319.65,11.17 320.70,11.09 321.75,11.01 322.79,10.93 323.84,10.86 324.89,10.78 325.93,10.71 326.98,10.64 328.03,10.57 329.07,10.50 330.12,10.43 331.17,10.36 332.21,10.30 333.26,10.24 334.31,10.17 335.35,10.11 336.40,10.05 337.45,9.99 338.49,9.94 339.54,9.88 340.59,9.83 341.63,9.77 342.68,9.72 343.73,9.67 344.77,9.61 345.82,9.56 346.87,9.52 347.91,9.47 348.96,9.42 350.01,9.37 351.05,9.33 352.10,9.29 353.15,9.24 354.19,9.20 355.24,9.16 356.29,9.12 357.33,9.08 358.38,9.04 359.43,9.00 360.47,8.96 361.52,8.92 362.57,8.89 363.61,8.85 364.66,8.82 365.71,8.78 366.75,8.75 367.80,8.72 368.85,8.68 369.89,8.65 370.94,8.62 371.99,8.59 373.03,8.56 374.08,8.53 375.13,8.50 376.17,8.48 377.22,8.45 378.27,8.42 379.31,8.40 380.36,8.37 381.41,8.35 382.45,8.32 383.50,8.30 384.55,8.27 385.59,8.25 386.64,8.23 387.69,8.20 388.73,8.18 389.78,8.16 390.83,8.14 391.87,8.12 392.92,8.10 393.97,8.08 395.01,8.06 396.06,8.04 397.11,8.02 398.15,8.00 399.20,7.99 400.25,7.97 401.29,7.95 402.34,7.93 403.39,7.92 404.43,7.90 405.48,7.88 406.53,7.87 407.57,7.85 408.62,7.84 409.67,7.82 410.71,7.81 411.76,7.80 412.81,7.78 413.85,7.77 414.90,7.76 415.95,7.74 416.99,7.73 418.04,7.72 419.09,7.70 420.13,7.69 421.18,7.68 422.23,7.67 423.27,7.66 424.32,7.65 425.37,7.64 426.41,7.63 427.46,7.61 428.51,7.60 429.55,7.59 430.60,7.58 431.65,7.58 432.69,7.57 433.74,7.56 434.79,7.55 435.83,7.54 436.88,7.53 437.93,7.52 438.97,7.51 440.02,7.50 441.07,7.50 442.11,7.49 443.16,7.48 444.21,7.47 445.25,7.47 446.30,7.46 447.35,7.45 448.39,7.44 449.44,7.44 450.49,7.43 451.53,7.42 452.58,7.42 453.63,7.41 454.67,7.41 455.72,7.40 456.77,7.39 457.81,7.39 458.86,7.38 459.91,7.38 460.95,7.37 462.00,7.37 463.05,7.36 464.09,7.35 465.14,7.35 466.19,7.34 467.23,7.34 468.28,7.34 469.33,7.33 470.37,7.33 471.42,7.32 472.47,7.32 473.51,7.31 474.56,7.31 475.61,7.30 476.65,7.30 477.70,7.30 478.75,7.29 479.79,7.29 480.84,7.28 481.89,7.28 482.93,7.28 483.98,7.27 485.03,7.27 486.07,7.27 487.12,7.26 488.17,7.26 489.21,7.26 490.26,7.25 491.31,7.25 492.35,7.25 493.40,7.25 494.45,7.24 495.49,7.24 496.54,7.24 497.59,7.23 498.63,7.23 499.68,7.23 500.73,7.23 501.77,7.22 502.82,7.22 503.87,7.22 504.91,7.22 505.96,7.21 507.01,7.21 508.05,7.21 509.10,7.21 510.15,7.21 511.19,7.20 512.24,7.20 513.29,7.20 514.33,7.20 515.38,7.20 516.43,7.19 517.47,7.19 518.52,7.19 519.57,7.19 520.61,7.19 521.66,7.18 522.71,7.18 523.75,7.18 524.80,7.18 525.85,7.18 526.89,7.18 527.94,7.17 528.99,7.17 530.03,7.17 531.08,7.17 532.13,7.17 533.17,7.17 534.22,7.17 535.27,7.17 536.31,7.16 537.36,7.16 538.41,7.16 539.45,7.16 540.50,7.16 541.55,7.16 542.59,7.16 543.64,7.16 544.69,7.15 545.73,7.15 546.78,7.15 547.83,7.15 548.87,7.15 549.92,7.15 550.97,7.15 552.01,7.15 553.06,7.15 554.11,7.15 555.15,7.14 556.20,7.14 557.25,7.14 558.29,7.14 559.34,7.14 560.39,7.14 561.43,7.14 562.48,7.14 563.53,7.14 564.57,7.14 565.62,7.14 566.67,7.14 567.71,7.13 568.76,7.13 569.81,7.13 570.85,7.13 571.90,7.13 572.95,7.13 573.99,7.13 575.04,7.13 576.09,7.13 577.13,7.13 578.18,7.13 579.23,7.13 580.27,7.13 581.32,7.13 582.37,7.13 583.41,7.13 584.46,7.13 585.51,7.12 586.55,7.12 587.60,7.12 588.65,7.12 589.69,7.12 590.74,7.12 591.79,7.12 592.83,7.12 593.88,7.12 594.93,7.12 595.97,7.12 597.02,7.12 598.07,7.12 599.11,7.12 600.16,7.12 601.21,7.12 602.25,7.12 603.30,7.12 604.35,7.12 605.39,7.12 606.44,7.12 607.49,7.12 608.53,7.12 609.58,7.12 610.63,7.12 611.67,7.12 612.72,7.11 613.77,7.11 614.81,7.11 615.86,7.11 616.91,7.11 617.95,7.11 619.00,7.11 620.05,7.11 621.09,7.11 622.14,7.11 623.19,7.11 624.23,7.11 625.28,7.11 626.33,7.11 627.37,7.11 628.42,7.11 629.47,7.11 630.51,7.11 631.56,7.11 632.61,7.11 633.65,7.11 634.70,7.11 635.75,7.11 636.79,7.11 637.84,7.11 638.89,7.11 639.93,7.11 640.98,7.11 642.03,7.11 643.07,7.11 644.12,7.11 645.17,7.11 646.21,7.11 647.26,7.11 648.31,7.11 649.35,7.11 650.40,7.11 651.45,7.11 652.49,7.11 653.54,7.11 654.59,7.11 655.63,7.11 656.68,7.11 657.73,7.11 658.77,7.11 659.82,7.11 660.87,7.11 661.91,7.11 662.96,7.11 664.01,7.11 665.05,7.11 666.10,7.11 667.15,7.11 668.19,7.11 669.24,7.10 670.29,7.10 671.33,7.10 672.38,7.10 673.43,7.10 674.47,7.10 675.52,7.10 676.57,7.10 677.61,7.10 678.66,7.10 679.71,7.10 680.75,7.10 681.80,7.10 682.85,7.10 683.89,7.10 684.94,7.10 685.99,7.10 687.03,7.10 688.08,7.10 689.13,7.10 690.17,7.10 691.22,7.10 692.27,7.10 693.31,7.10 694.36,7.10 695.41,7.10 696.45,7.10 697.50,7.10" stroke="#ff0000" stroke-width="3.7" fill="none" stroke-linejoin="round"/>
<polyline points="69.50,501.10 70.55,489.48 71.59,478.13 72.64,467.05 73.69,456.22 74.73,445.66 75.78,435.34 76.83,425.26 77.87,415.42 78.92,405.82 79.97,396.44 81.01,387.27 82.06,378.33 83.11,369.60 84.15,361.07 85.20,352.74 86.25,344.61 87.29,336.67 88.34,328.91 89.39,321.34 90.43,313.95 91.48,306.73 92.53,299.68 93.57,292.79 94.62,286.07 95.67,279.51 96.71,273.10 97.76,266.84 98.81,260.73 99.85,254.76 100.90,248.93 101.95,243.24 102.99,237.69 104.04,232.26 105.09,226.96 106.13,221.79 107.18,216.74 108.23,211.81 109.27,206.99 110.32,202.29 111.37,197.70 112.41,193.21 113.46,188.83 114.51,184.56 115.55,180.38 116.60,176.30 117.65,172.32 118.69,168.44 119.74,164.64 120.79,160.93 121.83,157.31 122.88,153.78 123.93,150.33 124.97,146.96 126.02,143.67 127.07,140.45 128.11,137.32 129.16,134.25 130.21,131.26 131.25,128.34 132.30,125.49 133.35,122.70 134.39,119.98 135.44,117.33 136.49,114.73 137.53,112.20 138.58,109.73 139.63,107.31 140.67,104.96 141.72,102.65 142.77,100.40 143.81,98.21 144.86,96.07 145.91,93.97 146.95,91.93 148.00,89.93 149.05,87.98 150.09,86.08 151.14,84.22 152.19,82.41 153.23,80.64 154.28,78.91 155.33,77.22 156.37,75.57 157.42,73.96 158.47,72.38 159.51,70.85 160.56,69.35 161.61,67.88 162.65,66.45 163.70,65.06 164.75,63.69 165.79,62.36 166.84,61.06 167.89,59.79 168.93,58.55 169.98,57.34 171.03,56.16 172.07,55.00 173.12,53.88 174.17,52.78 175.21,51.70 176.26,50.65 177.31,49.63 178.35,48.63 179.40,47.65 180.45,46.70 181.49,45.76 182.54,44.85 183.59,43.97 184.63,43.10 185.68,42.25 186.73,41.42 187.77,40.62 188.82,39.83 189.87,39.06 190.91,38.31 191.96,37.57 193.01,36.86 194.05,36.16 195.10,35.47 196.15,34.80 197.19,34.15 198.24,33.52 199.29,32.89 200.33,32.29 201.38,31.69 202.43,31.12 203.47,30.55 204.52,30.00 205.57,29.46 206.61,28.93 207.66,28.42 208.71,27.92 209.75,27.43 210.80,26.95 211.85,26.48 212.89,26.03 213.94,25.58 214.99,25.15 216.03,24.72 217.08,24.31 218.13,23.90 219.17,23.51 220.22,23.12 221.27,22.75 222.31,22.38 223.36,22.02 224.41,21.67 225.45,21.32 226.50,20.99 227.55,20.66 228.59,20.34 229.64,20.03 230.69,19.73 231.73,19.43 232.78,19.14 233.83,18.86 234.87,18.58 235.92,18.31 236.97,18.05 238.01,17.79 239.06,17.54 240.11,17.29 241.15,17.05 242.20,16.82 243.25,16.59 244.29,16.37 245.34,16.15 246.39,15.94 247.43,15.73 248.48,15.52 249.53,15.33 250.57,15.13 251.62,14.94 252.67,14.76 253.71,14.58 254.76,14.40 255.81,14.23 256.85,14.06 257.90,13.90 258.95,13.74 259.99,13.58 261.04,13.43 262.09,13.28 263.13,13.14 264.18,12.99 265.23,12.86 266.27,12.72 267.32,12.59 268.37,12.46 269.41,12.33 270.46,12.21 271.51,12.09 272.55,11.97 273.60,11.86 274.65,11.75 275.69,11.64 276.74,11.53 277.79,11.43 278.83,11.32 279.88,11.22 280.93,11.13 281.97,11.03 283.02,10.94 284.07,10.85 285.11,10.76 286.16,10.67 287.21,10.59 288.25,10.51 289.30,10.43 290.35,10.35 291.39,10.27 292.44,10.20 293.49,10.13 294.53,10.05 295.58,9.99 296.63,9.92 297.67,9.85 298.72,9.79 299.77,9.72 300.81,9.66 301.86,9.60 302.91,9.54 303.95,9.49 305.00,9.43 306.05,9.37 307.09,9.32 308.14,9.27 309.19,9.22 310.23,9.17 311.28,9.12 312.33,9.07 313.37,9.02 314.42,8.98 315.47,8.94 316.51,8.89 317.56,8.85 318.61,8.81 319.65,8.77 320.70,8.73 321.75,8.69 322.79,8.65 323.84,8.62 324.89,8.58 325.93,8.55 326.98,8.51 328.03,8.48 329.07,8.45 330.12,8.42 331.17,8.38 332.21,8.35 333.26,8.32 334.31,8.30 335.35,8.27 336.40,8.24 337.45,8.21 338.49,8.19 339.54,8.16 340.59,8.14 341.63,8.11 342.68,8.09 343.73,8.07 344.77,8.04 345.82,8.02 346.87,8.00 347.91,7.98 348.96,7.96 350.01,7.94 351.05,7.92 352.10,7.90 353.15,7.88 354.19,7.86 355.24,7.84 356.29,7.83 357.33,7.81 358.38,7.79 359.43,7.78 360.47,7.76 361.52,7.74 362.57,7.73 363.61,7.71 364.66,7.70 365.71,7.69 366.75,7.67 367.80,7.66 368.85,7.64 369.89,7.63 370.94,7.62 371.99,7.61 373.03,7.60 374.08,7.58 375.13,7.57 376.17,7.56 377.22,7.55 378.27,7.54 379.31,7.53 380.36,7.52 381.41,7.51 382.45,7.50 383.50,7.49 384.55,7.48 385.59,7.47 386.64,7.46 387.69,7.46 388.73,7.45 389.78,7.44 390.83,7.43 391.87,7.42 392.92,7.42 393.97,7.41 395.01,7.40 396.06,7.39 397.11,7.39 398.15,7.38 399.20,7.37 400.25,7.37 401.29,7.36 402.34,7.35 403.39,7.35 404.43,7.34 405.48,7.34 406.53,7.33 407.57,7.33 408.62,7.32 409.67,7.32 410.71,7.31 411.76,7.31 412.81,7.30 413.85,7.30 414.90,7.29 415.95,7.29 416.99,7.28 418.04,7.28 419.09,7.27 420.13,7.27 421.18,7.27 422.23,7.26 423.27,7.26 424.32,7.25 425.37,7.25 426.41,7.25 427.46,7.24 428.51,7.24 429.55,7.24 430.60,7.23 431.65,7.23 432.69,7.23 433.74,7.22 434.79,7.22 435.83,7.22 436.88,7.22 437.93,7.21 438.97,7.21 440.02,7.21 441.07,7.21 442.11,7.20 443.16,7.20 444.21,7.20 445.25,7.20 446.30,7.19 447.35,7.19 448.39,7.19 449.44,7.19 450.49,7.19 451.53,7.18 452.58,7.18 453.63,7.18 454.67,7.18 455.72,7.18 456.77,7.17 457.81,7.17 458.86,7.17 459.91,7.17 460.95,7.17 462.00,7.17 463.05,7.16 464.09,7.16 465.14,7.16 466.19,7.16 467.23,7.16 468.28,7.16 469.33,7.16 470.37,7.15 471.42,7.15 472.47,7.15 473.51,7.15 474.56,7.15 475.61,7.15 476.65,7.15 477.70,7.15 478.75,7.14 479.79,7.14 480.84,7.14 481.89,7.14 482.93,7.14 483.98,7.14 485.03,7.14 486.07,7.14 487.12,7.14 488.17,7.14 489.21,7.14 490.26,7.13 491.31,7.13 492.35,7.13 493.40,7.13 494.45,7.13 495.49,7.13 496.54,7.13 497.59,7.13 498.63,7.13 499.68,7.13 500.73,7.13 501.77,7.13 502.82,7.13 503.87,7.13 504.91,7.12 505.96,7.12 507.01,7.12 508.05,7.12 509.10,7.12 510.15,7.12 511.19,7.12 512.24,7.12 513.29,7.12 514.33,7.12 515.38,7.12 516.43,7.12 517.47,7.12 518.52,7.12 519.57,7.12 520.61,7.12 521.66,7.12 522.71,7.12 523.75,7.12 524.80,7.12 525.85,7.12 526.89,7.11 527.94,7.11 528.99,7.11 530.03,7.11 531.08,7.11 532.13,7.11 533.17,7.11 534.22,7.11 535.27,7.11 536.31,7.11 537.36,7.11 538.41,7.11 539.45,7.11 540.50,7.11 541.55,7.11 542.59,7.11 543.64,7.11 544.69,7.11 545.73,7.11 546.78,7.11 547.83,7.11 548.87,7.11 549.92,7.11 550.97,7.11 552.01,7.11 553.06,7.11 554.11,7.11 555.15,7.11 556.20,7.11 557.25,7.11 558.29,7.11 559.34,7.11 560.39,7.11 561.43,7.11 562.48,7.11 563.53,7.11 564.57,7.11 565.62,7.11 566.67,7.11 567.71,7.11 568.76,7.11 569.81,7.11 570.85,7.11 571.90,7.11 572.95,7.11 573.99,7.11 575.04,7.11 576.09,7.10 577.13,7.10 578.18,7.10 579.23,7.10 580.27,7.10 581.32,7.10 582.37,7.10 583.41,7.10 584.46,7.10 585.51,7.10 586.55,7.10 587.60,7.10 588.65,7.10 589.69,7.10 590.74,7.10 591.79,7.10 592.83,7.10 593.88,7.10 594.93,7.10 595.97,7.10 597.02,7.10 598.07,7.10 599.11,7.10 600.16,7.10 601.21,7.10 602.25,7.10 603.30,7.10 604.35,7.10 605.39,7.10 606.44,7.10 607.49,7.10 608.53,7.10 609.58,7.10 610.63,7.10 611.67,7.10 612.72,7.10 613.77,7.10 614.81,7.10 615.86,7.10 616.91,7.10 617.95,7.10 619.00,7.10 620.05,7.10 621.09,7.10 622.14,7.10 623.19,7.10 624.23,7.10 625.28,7.10 626.33,7.10 627.37,7.10 628.42,7.10 629.47,7.10 630.51,7.10 631.56,7.10 632.61,7.10 633.65,7.10 634.70,7.10 635.75,7.10 636.79,7.10 637.84,7.10 638.89,7.10 639.93,7.10 640.98,7.10 642.03,7.10 643.07,7.10 644.12,7.10 645.17,7.10 646.21,7.10 647.26,7.10 648.31,7.10 649.35,7.10 650.40,7.10 651.45,7.10 652.49,7.10 653.54,7.10 654.59,7.10 655.63,7.10 656.68,7.10 657.73,7.10 658.77,7.10 659.82,7.10 660.87,7.10 661.91,7.10 662.96,7.10 664.01,7.10 665.05,7.10 666.10,7.10 667.15,7.10 668.19,7.10 669.24,7.10 670.29,7.10 671.33,7.10 672.38,7.10 673.43,7.10 674.47,7.10 675.52,7.10 676.57,7.10 677.61,7.10 678.66,7.10 679.71,7.10 680.75,7.10 681.80,7.10 682.85,7.10 683.89,7.10 684.94,7.10 685.99,7.10 687.03,7.10 688.08,7.10 689.13,7.10 690.17,7.10 691.22,7.10 692.27,7.10 693.31,7.10 694.36,7.10 695.41,7.10 696.45,7.10 697.50,7.10" stroke="#0000ff" stroke-width="2.4" fill="none" stroke-linejoin="round"/>
<polyline points="69.50,501.10 70.55,486.61 71.59,472.55 72.64,458.90 73.69,445.66 74.73,432.80 75.78,420.31 76.83,408.20 77.87,396.44 78.92,385.02 79.97,373.94 81.01,363.18 82.06,352.74 83.11,342.60 84.15,332.76 85.20,323.22 86.25,313.95 87.29,304.95 88.34,296.21 89.39,287.74 90.43,279.51 91.48,271.52 92.53,263.77 93.57,256.24 94.62,248.93 95.67,241.84 96.71,234.96 97.76,228.28 98.81,221.79 99.85,215.50 100.90,209.39 101.95,203.45 102.99,197.70 104.04,192.11 105.09,186.68 106.13,181.42 107.18,176.30 108.23,171.34 109.27,166.53 110.32,161.85 111.37,157.31 112.41,152.91 113.46,148.63 114.51,144.48 115.55,140.45 116.60,136.54 117.65,132.75 118.69,129.06 119.74,125.49 120.79,122.02 121.83,118.65 122.88,115.38 123.93,112.20 124.97,109.12 126.02,106.13 127.07,103.22 128.11,100.40 129.16,97.67 130.21,95.01 131.25,92.43 132.30,89.93 133.35,87.50 134.39,85.15 135.44,82.86 136.49,80.64 137.53,78.48 138.58,76.39 139.63,74.35 140.67,72.38 141.72,70.47 142.77,68.61 143.81,66.81 144.86,65.06 145.91,63.36 146.95,61.71 148.00,60.11 149.05,58.55 150.09,57.04 151.14,55.58 152.19,54.16 153.23,52.78 154.28,51.44 155.33,50.14 156.37,48.87 157.42,47.65 158.47,46.46 159.51,45.31 160.56,44.19 161.61,43.10 162.65,42.04 163.70,41.02 164.75,40.02 165.79,39.06 166.84,38.12 167.89,37.21 168.93,36.33 169.98,35.47 171.03,34.64 172.07,33.83 173.12,33.05 174.17,32.29 175.21,31.55 176.26,30.83 177.31,30.14 178.35,29.46 179.40,28.80 180.45,28.17 181.49,27.55 182.54,26.95 183.59,26.37 184.63,25.80 185.68,25.26 186.73,24.72 187.77,24.21 188.82,23.70 189.87,23.22 190.91,22.75 191.96,22.29 193.01,21.84 194.05,21.41 195.10,20.99 196.15,20.58 197.19,20.19 198.24,19.80 199.29,19.43 200.33,19.07 201.38,18.72 202.43,18.38 203.47,18.05 204.52,17.73 205.57,17.41 206.61,17.11 207.66,16.82 208.71,16.53 209.75,16.26 210.80,15.99 211.85,15.73 212.89,15.47 213.94,15.23 214.99,14.99 216.03,14.76 217.08,14.53 218.13,14.32 219.17,14.10 220.22,13.90 221.27,13.70 222.31,13.51 223.36,13.32 224.41,13.14 225.45,12.96 226.50,12.79 227.55,12.62 228.59,12.46 229.64,12.30 230.69,12.15 231.73,12.00 232.78,11.86 233.83,11.72 234.87,11.58 235.92,11.45 236.97,11.32 238.01,11.20 239.06,11.08 240.11,10.96 241.15,10.85 242.20,10.74 243.25,10.63 244.29,10.53 245.34,10.43 246.39,10.33 247.43,10.24 248.48,10.14 249.53,10.05 250.57,9.97 251.62,9.88 252.67,9.80 253.71,9.72 254.76,9.65 255.81,9.57 256.85,9.50 257.90,9.43 258.95,9.36 259.99,9.29 261.04,9.23 262.09,9.17 263.13,9.11 264.18,9.05 265.23,8.99 266.27,8.94 267.32,8.88 268.37,8.83 269.41,8.78 270.46,8.73 271.51,8.68 272.55,8.64 273.60,8.59 274.65,8.55 275.69,8.50 276.74,8.46 277.79,8.42 278.83,8.38 279.88,8.35 280.93,8.31 281.97,8.27 283.02,8.24 284.07,8.21 285.11,8.17 286.16,8.14 287.21,8.11 288.25,8.08 289.30,8.05 290.35,8.03 291.39,8.00 292.44,7.97 293.49,7.95 294.53,7.92 295.58,7.90 296.63,7.87 297.67,7.85 298.72,7.83 299.77,7.81 300.81,7.79 301.86,7.77 302.91,7.75 303.95,7.73 305.00,7.71 306.05,7.69 307.09,7.67 308.14,7.66 309.19,7.64 310.23,7.63 311.28,7.61 312.33,7.60 313.37,7.58 314.42,7.57 315.47,7.55 316.51,7.54 317.56,7.53 318.61,7.51 319.65,7.50 320.70,7.49 321.75,7.48 322.79,7.47 323.84,7.46 324.89,7.45 325.93,7.44 326.98,7.43 328.03,7.42 329.07,7.41 330.12,7.40 331.17,7.39 332.21,7.38 333.26,7.37 334.31,7.37 335.35,7.36 336.40,7.35 337.45,7.34 338.49,7.34 339.54,7.33 340.59,7.32 341.63,7.32 342.68,7.31 343.73,7.30 344.77,7.30 345.82,7.29 346.87,7.29 347.91,7.28 348.96,7.27 350.01,7.27 351.05,7.26 352.10,7.26 353.15,7.26 354.19,7.25 355.24,7.25 356.29,7.24 357.33,7.24 358.38,7.23 359.43,7.23 360.47,7.23 361.52,7.22 362.57,7.22 363.61,7.22 364.66,7.21 365.71,7.21 366.75,7.21 367.80,7.20 368.85,7.20 369.89,7.20 370.94,7.19 371.99,7.19 373.03,7.19 374.08,7.19 375.13,7.18 376.17,7.18 377.22,7.18 378.27,7.18 379.31,7.17 380.36,7.17 381.41,7.17 382.45,7.17 383.50,7.17 384.55,7.16 385.59,7.16 386.64,7.16 387.69,7.16 388.73,7.16 389.78,7.15 390.83,7.15 391.87,7.15 392.92,7.15 393.97,7.15 395.01,7.15 396.06,7.15 397.11,7.14 398.15,7.14 399.20,7.14 400.25,7.14 401.29,7.14 402.34,7.14 403.39,7.14 404.43,7.14 405.48,7.14 406.53,7.13 407.57,7.13 408.62,7.13 409.67,7.13 410.71,7.13 411.76,7.13 412.81,7.13 413.85,7.13 414.90,7.13 415.95,7.13 416.99,7.13 418.04,7.12 419.09,7.12 420.13,7.12 421.18,7.12 422.23,7.12 423.27,7.12 424.32,7.12 425.37,7.12 426.41,7.12 427.46,7.12 428.51,7.12 429.55,7.12 430.60,7.12 431.65,7.12 432.69,7.12 433.74,7.12 434.79,7.12 435.83,7.11 436.88,7.11 437.93,7.11 438.97,7.11 440.02,7.11 441.07,7.11 442.11,7.11 443.16,7.11 444.21,7.11 445.25,7.11 446.30,7.11 447.35,7.11 448.39,7.11 449.44,7.11 450.49,7.11 451.53,7.11 452.58,7.11 453.63,7.11 454.67,7.11 455.72,7.11 456.77,7.11 457.81,7.11 458.86,7.11 459.91,7.11 460.95,7.11 462.00,7.11 463.05,7.11 464.09,7.11 465.14,7.11 466.19,7.11 467.23,7.11 468.28,7.11 469.33,7.11 470.37,7.11 471.42,7.11 472.47,7.11 473.51,7.11 474.56,7.10 475.61,7.10 476.65,7.10 477.70,7.10 478.75,7.10 479.79,7.10 480.84,7.10 481.89,7.10 482.93,7.10 483.98,7.10 485.03,7.10 486.07,7.10 487.12,7.10 488.17,7.10 489.21,7.10 490.26,7.10 491.31,7.10 492.35,7.10 493.40,7.10 494.45,7.10 495.49,7.10 496.54,7.10 497.59,7.10 498.63,7.10 499.68,7.10 500.73,7.10 501.77,7.10 502.82,7.10 503.87,7.10 504.91,7.10 505.96,7.10 507.01,7.10 508.05,7.10 509.10,7.10 510.15,7.10 511.19,7.10 512.24,7.10 513.29,7.10 514.33,7.10 515.38,7.10 516.43,7.10 517.47,7.10 518.52,7.10 519.57,7.10 520.61,7.10 521.66,7.10 522.71,7.10 523.75,7.10 524.80,7.10 525.85,7.10 526.89,7.10 527.94,7.10 528.99,7.10 530.03,7.10 531.08,7.10 532.13,7.10 533.17,7.10 534.22,7.10 535.27,7.10 536.31,7.10 537.36,7.10 538.41,7.10 539.45,7.10 540.50,7.10 541.55,7.10 542.59,7.10 543.64,7.10 544.69,7.10 545.73,7.10 546.78,7.10 547.83,7.10 548.87,7.10 549.92,7.10 550.97,7.10 552.01,7.10 553.06,7.10 554.11,7.10 555.15,7.10 556.20,7.10 557.25,7.10 558.29,7.10 559.34,7.10 560.39,7.10 561.43,7.10 562.48,7.10 563.53,7.10 564.57,7.10 565.62,7.10 566.67,7.10 567.71,7.10 568.76,7.10 569.81,7.10 570.85,7.10 571.90,7.10 572.95,7.10 573.99,7.10 575.04,7.10 576.09,7.10 577.13,7.10 578.18,7.10 579.23,7.10 580.27,7.10 581.32,7.10 582.37,7.10 583.41,7.10 584.46,7.10 585.51,7.10 586.55,7.10 587.60,7.10 588.65,7.10 589.69,7.10 590.74,7.10 591.79,7.10 592.83,7.10 593.88,7.10 594.93,7.10 595.97,7.10 597.02,7.10 598.07,7.10 599.11,7.10 600.16,7.10 601.21,7.10 602.25,7.10 603.30,7.10 604.35,7.10 605.39,7.10 606.44,7.10 607.49,7.10 608.53,7.10 609.58,7.10 610.63,7.10 611.67,7.10 612.72,7.10 613.77,7.10 614.81,7.10 615.86,7.10 616.91,7.10 617.95,7.10 619.00,7.10 620.05,7.10 621.09,7.10 622.14,7.10 623.19,7.10 624.23,7.10 625.28,7.10 626.33,7.10 627.37,7.10 628.42,7.10 629.47,7.10 630.51,7.10 631.56,7.10 632.61,7.10 633.65,7.10 634.70,7.10 635.75,7.10 636.79,7.10 637.84,7.10 638.89,7.10 639.93,7.10 640.98,7.10 642.03,7.10 643.07,7.10 644.12,7.10 645.17,7.10 646.21,7.10 647.26,7.10 648.31,7.10 649.35,7.10 650.40,7.10 651.45,7.10 652.49,7.10 653.54,7.10 654.59,7.10 655.63,7.10 656.68,7.10 657.73,7.10 658.77,7.10 659.82,7.10 660.87,7.10 661.91,7.10 662.96,7.10 664.01,7.10 665.05,7.10 666.10,7.10 667.15,7.10 668.19,7.10 669.24,7.10 670.29,7.10 671.33,7.10 672.38,7.10 673.43,7.10 674.47,7.10 675.52,7.10 676.57,7.10 677.61,7.10 678.66,7.10 679.71,7.10 680.75,7.10 681.80,7.10 682.85,7.10 683.89,7.10 684.94,7.10 685.99,7.10 687.03,7.10 688.08,7.10 689.13,7.10 690.17,7.10 691.22,7.10 692.27,7.10 693.31,7.10 694.36,7.10 695.41,7.10 696.45,7.10 697.50,7.10" stroke="#000000" stroke-width="2.4" fill="none" stroke-linejoin="round"/>
<rect x="101.43" y="249.60" width="9" height="9" fill="#000" stroke="#0000ff" stroke-width="1"/>
<rect x="120.03" y="175.50" width="9" height="9" fill="#000" stroke="#0000ff" stroke-width="1"/>
<rect x="137.57" y="126.10" width="9" height="9" fill="#000" stroke="#0000ff" stroke-width="1"/>
<rect x="164.20" y="76.70" width="9" height="9" fill="#000" stroke="#0000ff" stroke-width="1"/>
<rect x="185.34" y="52.00" width="9" height="9" fill="#000" stroke="#0000ff" stroke-width="1"/>
<rect x="221.47" y="27.30" width="9" height="9" fill="#000" stroke="#0000ff" stroke-width="1"/>
<rect x="305.38" y="7.54" width="9" height="9" fill="#000" stroke="#0000ff" stroke-width="1"/>
<g font-family='"Liberation Sans", sans-serif'>
<text id="t0" class="t" x="68.90" y="529.80" font-size="19.6" fill="#262626" text-anchor="middle">0</text>
<text id="t1" class="t" x="131.70" y="529.80" font-size="19.6" fill="#262626" text-anchor="middle"> </text><path d="M131.73 529.80H133.50V516.08H132.22C131.73 517.26 130.36 518.53 128.17 518.92V520.63C129.74 520.33 130.99 519.61 131.73 518.73Z" fill="#262626"/>
<text id="t2" class="t" x="194.50" y="529.80" font-size="19.6" fill="#262626" text-anchor="middle">2</text>
<text id="t3" class="t" x="257.30" y="529.80" font-size="19.6" fill="#262626" text-anchor="middle">3</text>
<text id="t4" class="t" x="320.10" y="529.80" font-size="19.6" fill="#262626" text-anchor="middle">4</text>
<text id="t5" class="t" x="382.90" y="529.80" font-size="19.6" fill="#262626" text-anchor="middle">5</text>
<text id="t6" class="t" x="445.70" y="529.80" font-size="19.6" fill="#262626" text-anchor="middle">6</text>
<text id="t7" class="t" x="508.50" y="529.80" font-size="19.6" fill="#262626" text-anchor="middle">7</text>
<text id="t8" class="t" x="571.30" y="529.80" font-size="19.6" fill="#262626" text-anchor="middle">8</text>
<text id="t9" class="t" x="634.10" y="529.80" font-size="19.6" fill="#262626" text-anchor="middle">9</text>
<text id="t10" class="t" x="696.90" y="529.80" font-size="19.6" fill="#262626" text-anchor="middle"> 0</text><path d="M691.49 529.80H693.25V516.08H691.98C691.49 517.26 690.12 518.53 687.92 518.92V520.63C689.49 520.33 690.74 519.61 691.49 518.73Z" fill="#262626"/>
<text id="t11" class="t" x="61.80" y="509.30" font-size="19.6" fill="#262626" text-anchor="end">0</text>
<text id="t12" class="t" x="61.80" y="459.90" font-size="19.6" fill="#262626" text-anchor="end">0. </text><path d="M56.37 459.90H58.13V446.18H56.86C56.37 447.36 54.99 448.63 52.80 449.02V450.73C54.37 450.43 55.62 449.71 56.37 448.83Z" fill="#262626"/>
<text id="t13" class="t" x="61.80" y="410.50" font-size="19.6" fill="#262626" text-anchor="end">0.2</text>
<text id="t14" class="t" x="61.80" y="361.10" font-size="19.6" fill="#262626" text-anchor="end">0.3</text>
<text id="t15" class="t" x="61.80" y="311.70" font-size="19.6" fill="#262626" text-anchor="end">0.4</text>
<text id="t16" class="t" x="61.80" y="262.30" font-size="19.6" fill="#262626" text-anchor="end">0.5</text>
<text id="t17" class="t" x="61.80" y="212.90" font-size="19.6" fill="#262626" text-anchor="end">0.6</text>
<text id="t18" class="t" x="61.80" y="163.50" font-size="19.6" fill="#262626" text-anchor="end">0.7</text>
<text id="t19" class="t" x="61.80" y="114.10" font-size="19.6" fill="#262626" text-anchor="end">0.8</text>
<text id="t20" class="t" x="61.80" y="64.70" font-size="19.6" fill="#262626" text-anchor="end">0.9</text>
<text id="t21" class="t" x="61.80" y="15.30" font-size="19.6" fill="#262626" text-anchor="end"> </text><path d="M56.38 15.30H58.15V1.58H56.87C56.38 2.76 55.01 4.03 52.81 4.42V6.13C54.38 5.83 55.64 5.11 56.38 4.23Z" fill="#262626"/>
<g transform="translate(382.0,558) scale(1,1.02)"><text id="t22" class="t" x="0.00" y="0.00" font-size="20.8" fill="#262626" text-anchor="middle">Number of Tnt  inserts</text><path d="M32.78 0.00H34.65V-14.56H33.30C32.78 -13.31 31.32 -11.96 28.99 -11.54V-9.73C30.66 -10.05 31.99 -10.82 32.78 -11.75Z" fill="#262626"/></g>
<g transform="translate(16.0,254.6) rotate(-90)"><text id="t23" class="t" x="0.00" y="0.00" font-size="20.8" fill="#262626" text-anchor="middle">Probability of tagging any given gene</text></g>
<text id="t24" class="t" x="651.40" y="563.20" font-size="20.5" fill="#262626">×</text>
<g transform="translate(667.4,560.8) scale(0.92,1)"><text id="t25" class="t" x="0.00" y="0.00" font-size="19" fill="#262626"> 0</text><path d="M5.32 0.00H7.03V-13.30H5.79C5.32 -12.16 3.99 -10.92 1.86 -10.54V-8.89C3.38 -9.18 4.60 -9.88 5.32 -10.73Z" fill="#262626"/></g>
<text id="t26" class="t" x="687.90" y="551.00" font-size="14.2" fill="#262626">5</text>
<rect x="539" y="27" width="138.5" height="170.5" fill="#fff" stroke="#262626" stroke-width="1"/>
<line x1="545" y1="41.20" x2="588" y2="41.20" stroke="#cc3380" stroke-width="2.4"/>
<line x1="545" y1="64.88" x2="588" y2="64.88" stroke="#ff00ff" stroke-width="2.4"/>
<line x1="545" y1="88.56" x2="588" y2="88.56" stroke="#00ffff" stroke-width="2.4"/>
<line x1="545" y1="112.24" x2="588" y2="112.24" stroke="#00ff00" stroke-width="2.4"/>
<line x1="545" y1="135.92" x2="588" y2="135.92" stroke="#ff0000" stroke-width="3.7"/>
<line x1="545" y1="159.60" x2="588" y2="159.60" stroke="#0000ff" stroke-width="2.4"/>
<line x1="545" y1="183.28" x2="588" y2="183.28" stroke="#000000" stroke-width="2.4"/>
<text id="t27" class="lg" x="592.30" y="47.60" font-size="17.4" fill="#000">0.5 kbp</text>
<text id="t28" class="lg" x="592.30" y="71.28" font-size="17.4" fill="#000">  kbp</text><path d="M597.17 71.28H598.74V59.10H597.61C597.17 60.14 595.95 61.27 594.01 61.62V63.14C595.40 62.88 596.51 62.23 597.17 61.45Z" fill="#000"/>
<text id="t29" class="lg" x="592.30" y="94.96" font-size="17.4" fill="#000">2 kbp</text>
<text id="t30" class="lg" x="592.30" y="118.64" font-size="17.4" fill="#000">3 kbp</text>
<text id="t31" class="lg" x="592.30" y="142.32" font-size="17.4" fill="#000">3.373 kbp</text>
<text id="t32" class="lg" x="592.30" y="166.00" font-size="17.4" fill="#000">4 kbp</text>
<text id="t33" class="lg" x="592.30" y="189.68" font-size="17.4" fill="#000">5 kbp</text>
</g>
</svg>
</body></html>
